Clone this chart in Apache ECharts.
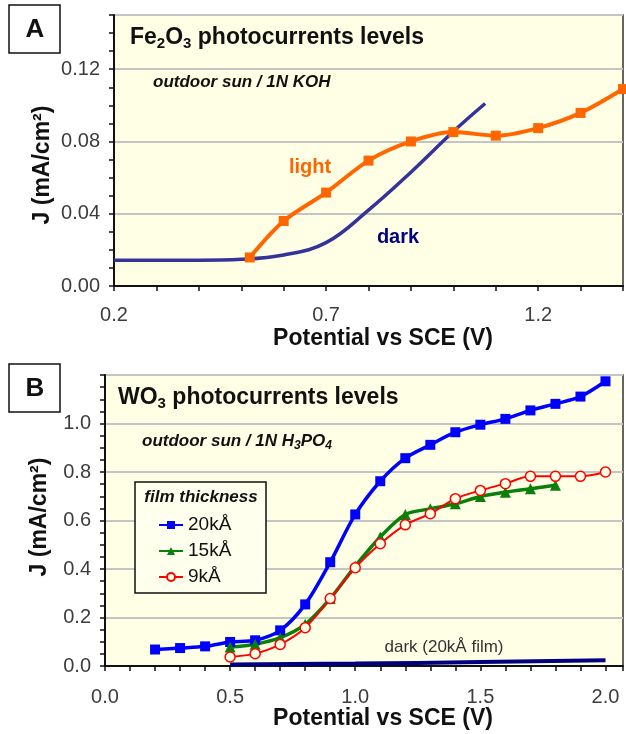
<!DOCTYPE html>
<html>
<head>
<meta charset="utf-8">
<script src="https://cdn.jsdelivr.net/npm/echarts@6/dist/echarts.min.js"></script>
<style>
  html, body { margin: 0; padding: 0; background: #fff; }
  #main { width: 626px; height: 734px; }
</style>
</head>
<body>
<div id="main"></div>
<script>
// panel A : Fe2O3
var feLightV = [0.52, 0.6, 0.7, 0.8, 0.9, 1.0, 1.1, 1.2, 1.3, 1.4];
var feLightJ = [0.0158, 0.036, 0.0517, 0.0694, 0.080, 0.0852, 0.0832, 0.0874, 0.0958, 0.109];
var feDarkV = [0.2, 0.3, 0.4, 0.5, 0.6, 0.7, 0.8, 0.9, 1.0, 1.075];
var feDarkJ = [0.0143, 0.0143, 0.0143, 0.0148, 0.0172, 0.024, 0.042, 0.063, 0.0855, 0.101];

// panel B : WO3
var wo20V = [0.2, 0.3, 0.4, 0.5, 0.6, 0.7, 0.8, 0.9, 1.0, 1.1, 1.2, 1.3, 1.4, 1.5, 1.6, 1.7, 1.8, 1.9, 2.0];
var wo20J = [0.068, 0.074, 0.081, 0.099, 0.106, 0.147, 0.254, 0.428, 0.625, 0.762, 0.857, 0.912, 0.964, 0.995, 1.019, 1.054, 1.081, 1.111, 1.174];
var wo15V = [0.5, 0.6, 0.7, 0.8, 0.9, 1.0, 1.1, 1.2, 1.3, 1.4, 1.5, 1.6, 1.7, 1.8];
var wo15J = [0.078, 0.09, 0.117, 0.172, 0.278, 0.412, 0.532, 0.625, 0.648, 0.669, 0.699, 0.717, 0.731, 0.745];
var wo9V = [0.5, 0.6, 0.7, 0.8, 0.9, 1.0, 1.1, 1.2, 1.3, 1.4, 1.5, 1.6, 1.7, 1.8, 1.9, 2.0];
var wo9J = [0.037, 0.051, 0.089, 0.158, 0.278, 0.405, 0.504, 0.582, 0.628, 0.69, 0.724, 0.752, 0.782, 0.782, 0.782, 0.80];
var woDarkV = [0.5, 1.0, 1.5, 2.0];
var woDarkJ = [0.006, 0.010, 0.016, 0.024];

var legendNames = ['20kÅ', '15kÅ', '9kÅ'];

function pairs(xs, ys){
    var out = [];
    for (var i = 0; i < xs.length; i++){
        out.push([xs[i], ys[i]]);
    }
    return out;
}

var FONT = "'Liberation Sans', Arial, sans-serif";
var tickLabel = { fontFamily: FONT, fontSize: 20, color: '#3c3c3c' };
var blackLine = { color: '#111', width: 2 };

var chart = echarts.init(document.getElementById('main'));
var option = {};

option['grid'] = [
    { left: 114, top: 15, right: -6, height: 271, show: true, backgroundColor: '#FFFFE6', borderColor: '#333', borderWidth: 1.5 },
    { left: 105, top: 375, right: 1, height: 291, show: true, backgroundColor: '#FFFFE6', borderColor: '#333', borderWidth: 1.5 }
];

option['xAxis'] = [
    {
        gridIndex: 0, type: 'value', min: 0.2, max: 1.4, interval: 0.1,
        axisLine: { lineStyle: blackLine },
        axisTick: { length: 5, lineStyle: { color: '#111', width: 1.5 } },
        splitLine: { show: false },
        axisLabel: Object.assign({ margin: 19, formatter: function(v){
            return Math.round((v - 0.2) * 10) % 5 === 0 ? v.toFixed(1) : '';
        } }, tickLabel)
    },
    {
        gridIndex: 1, type: 'value', min: 0, max: 2.07, interval: 0.1,
        axisLine: { lineStyle: blackLine },
        axisTick: { length: 5, lineStyle: { color: '#111', width: 1.5 } },
        splitLine: { show: false },
        axisLabel: Object.assign({ margin: 21, formatter: function(v){
            return Math.round(v * 10) % 5 === 0 ? v.toFixed(1) : '';
        } }, tickLabel)
    }
];

option['yAxis'] = [
    // ticks only
    {
        gridIndex: 0, type: 'value', min: 0, max: 0.15, interval: 0.01, position: 'left',
        axisLine: { show: true, lineStyle: blackLine },
        axisTick: { show: true, length: 5, lineStyle: { color: '#111', width: 1.5 } },
        axisLabel: { show: false }, splitLine: { show: false }
    },
    // labels + grid lines
    {
        gridIndex: 0, type: 'value', min: 0, max: 0.15, interval: 0.04, position: 'left',
        axisLine: { show: false }, axisTick: { show: false },
        splitLine: { show: true, lineStyle: { color: '#c4c4c4', width: 2 } },
        axisLabel: Object.assign({ margin: 14, showMaxLabel: false, formatter: function(v){
            return Math.round(v * 100) % 4 === 0 ? v.toFixed(2) : '';
        } }, tickLabel)
    },
    {
        gridIndex: 1, type: 'value', min: 0, max: 1.2, interval: 0.05, position: 'left',
        axisLine: { show: true, lineStyle: blackLine },
        axisTick: { show: true, length: 5, lineStyle: { color: '#111', width: 1.5 } },
        axisLabel: { show: false }, splitLine: { show: false }
    },
    {
        gridIndex: 1, type: 'value', min: 0, max: 1.2, interval: 0.2, position: 'left',
        axisLine: { show: false }, axisTick: { show: false },
        splitLine: { show: true, lineStyle: { color: '#c4c4c4', width: 2 } },
        axisLabel: Object.assign({ margin: 14, showMaxLabel: false, formatter: function(v){
            return v.toFixed(1);
        } }, tickLabel)
    }
];

option['series'] = [
    {
        name: 'dark A', type: 'line', xAxisIndex: 0, yAxisIndex: 0,
        data: pairs(feDarkV, feDarkJ), smooth: 0.4, showSymbol: false,
        lineStyle: { color: '#333399', width: 3.5 }, itemStyle: { color: '#333399' }
    },
    {
        name: 'light', type: 'line', xAxisIndex: 0, yAxisIndex: 0,
        data: pairs(feLightV, feLightJ), smooth: 0.3, symbol: 'rect', symbolSize: 10,
        lineStyle: { color: '#FF6600', width: 4 }, itemStyle: { color: '#FF6600' }
    },
    {
        name: 'dark B', type: 'line', xAxisIndex: 1, yAxisIndex: 2,
        data: pairs(woDarkV, woDarkJ), smooth: true, showSymbol: false,
        lineStyle: { color: '#000080', width: 4 }, itemStyle: { color: '#000080' }
    },
    {
        name: legendNames[0], type: 'line', xAxisIndex: 1, yAxisIndex: 2,
        data: pairs(wo20V, wo20J), smooth: 0.3, symbol: 'rect', symbolSize: 10,
        lineStyle: { color: '#0000FF', width: 3.5 }, itemStyle: { color: '#0000FF' }
    },
    {
        name: legendNames[1], type: 'line', xAxisIndex: 1, yAxisIndex: 2,
        data: pairs(wo15V, wo15J), smooth: 0.3, symbol: 'triangle', symbolSize: 11,
        lineStyle: { color: '#0A800A', width: 3.5 }, itemStyle: { color: '#0A800A' }
    },
    {
        name: legendNames[2], type: 'line', xAxisIndex: 1, yAxisIndex: 2,
        data: pairs(wo9V, wo9J), smooth: 0.3, symbol: 'circle', symbolSize: 10,
        lineStyle: { color: '#FF0000', width: 2 },
        itemStyle: { color: '#FFFFE6', borderColor: '#FF0000', borderWidth: 1.5 }
    }
];

option['legend'] = {
    data: legendNames,
    orient: 'vertical',
    left: 158, top: 515,
    padding: 0,
    itemWidth: 24, itemHeight: 10, itemGap: 6,
    textStyle: { fontFamily: FONT, fontSize: 19, color: '#111', lineHeight: 20 }
};

var subRich = {
    m: { fontFamily: FONT, fontSize: 23, fontWeight: 'bold', color: '#111' },
    s: { fontFamily: FONT, fontSize: 15, fontWeight: 'bold', color: '#111', padding: [12, 0, 0, 0] },
    i: { fontFamily: FONT, fontSize: 17, fontWeight: 'bold', fontStyle: 'italic', color: '#111' },
    h: { fontFamily: FONT, fontSize: 17, fontStyle: 'italic', color: '#111' },
    hs: { fontFamily: FONT, fontSize: 12, fontStyle: 'italic', color: '#111', padding: [9, 0, 0, 0] }
};

option['title'] = [
    { text: '{m|Fe}{s|2}{m|O}{s|3}{m| photocurrents levels}', left: 130, top: 24, padding: 0, textStyle: { rich: subRich } },
    { text: '{i|outdoor sun / 1N KOH}', left: 153, top: 74, padding: 0, textStyle: { rich: subRich } },
    { text: '{m|WO}{s|3}{m| photocurrents levels}', left: 118, top: 384, padding: 0, textStyle: { rich: subRich } },
    { text: '{i|outdoor sun / 1N }{h|H}{hs|3}{h|PO}{hs|4}', left: 142, top: 431, padding: 0, textStyle: { rich: subRich } }
];

function txt(x, y, s, font, color, rot){
    return {
        type: 'text', x: x, y: y, rotation: rot || 0, z: 10,
        style: { x: 0, y: 0, text: s, font: font, fill: color,
                 textAlign: 'center', textVerticalAlign: 'middle', align: 'center', verticalAlign: 'middle' }
    };
}

option['graphic'] = [
    { type: 'rect', shape: { x: 9, y: 5, width: 51, height: 48 }, style: { fill: '#fff', stroke: '#111', lineWidth: 1.5 } },
    txt(35, 30, 'A', 'bold 26px ' + FONT, '#111'),
    { type: 'rect', shape: { x: 9, y: 364, width: 51, height: 48 }, style: { fill: '#fff', stroke: '#111', lineWidth: 1.5 } },
    txt(35, 389, 'B', 'bold 26px ' + FONT, '#111'),

    txt(43, 165, 'J (mA/cm²)', 'bold 23px ' + FONT, '#111', Math.PI / 2),
    txt(40, 517, 'J (mA/cm²)', 'bold 23px ' + FONT, '#111', Math.PI / 2),
    txt(383, 339, 'Potential vs SCE (V)', 'bold 23px ' + FONT, '#111'),
    txt(383, 719, 'Potential vs SCE (V)', 'bold 23px ' + FONT, '#111'),

    txt(310, 167, 'light', 'bold 20px ' + FONT, '#FF6600'),
    txt(398, 237, 'dark', 'bold 20px ' + FONT, '#000080'),
    txt(444, 647, 'dark (20kÅ film)', '17px ' + FONT, '#333'),

    // legend frame and heading
    { type: 'rect', z: 3, shape: { x: 135, y: 482, width: 131, height: 111 }, style: { fill: '#FFFFEE', stroke: '#111', lineWidth: 1.5 } },
    txt(201, 497, 'film thickness', 'italic bold 17px ' + FONT, '#111')
];

option && chart.setOption(option);
</script>
</body>
</html>
